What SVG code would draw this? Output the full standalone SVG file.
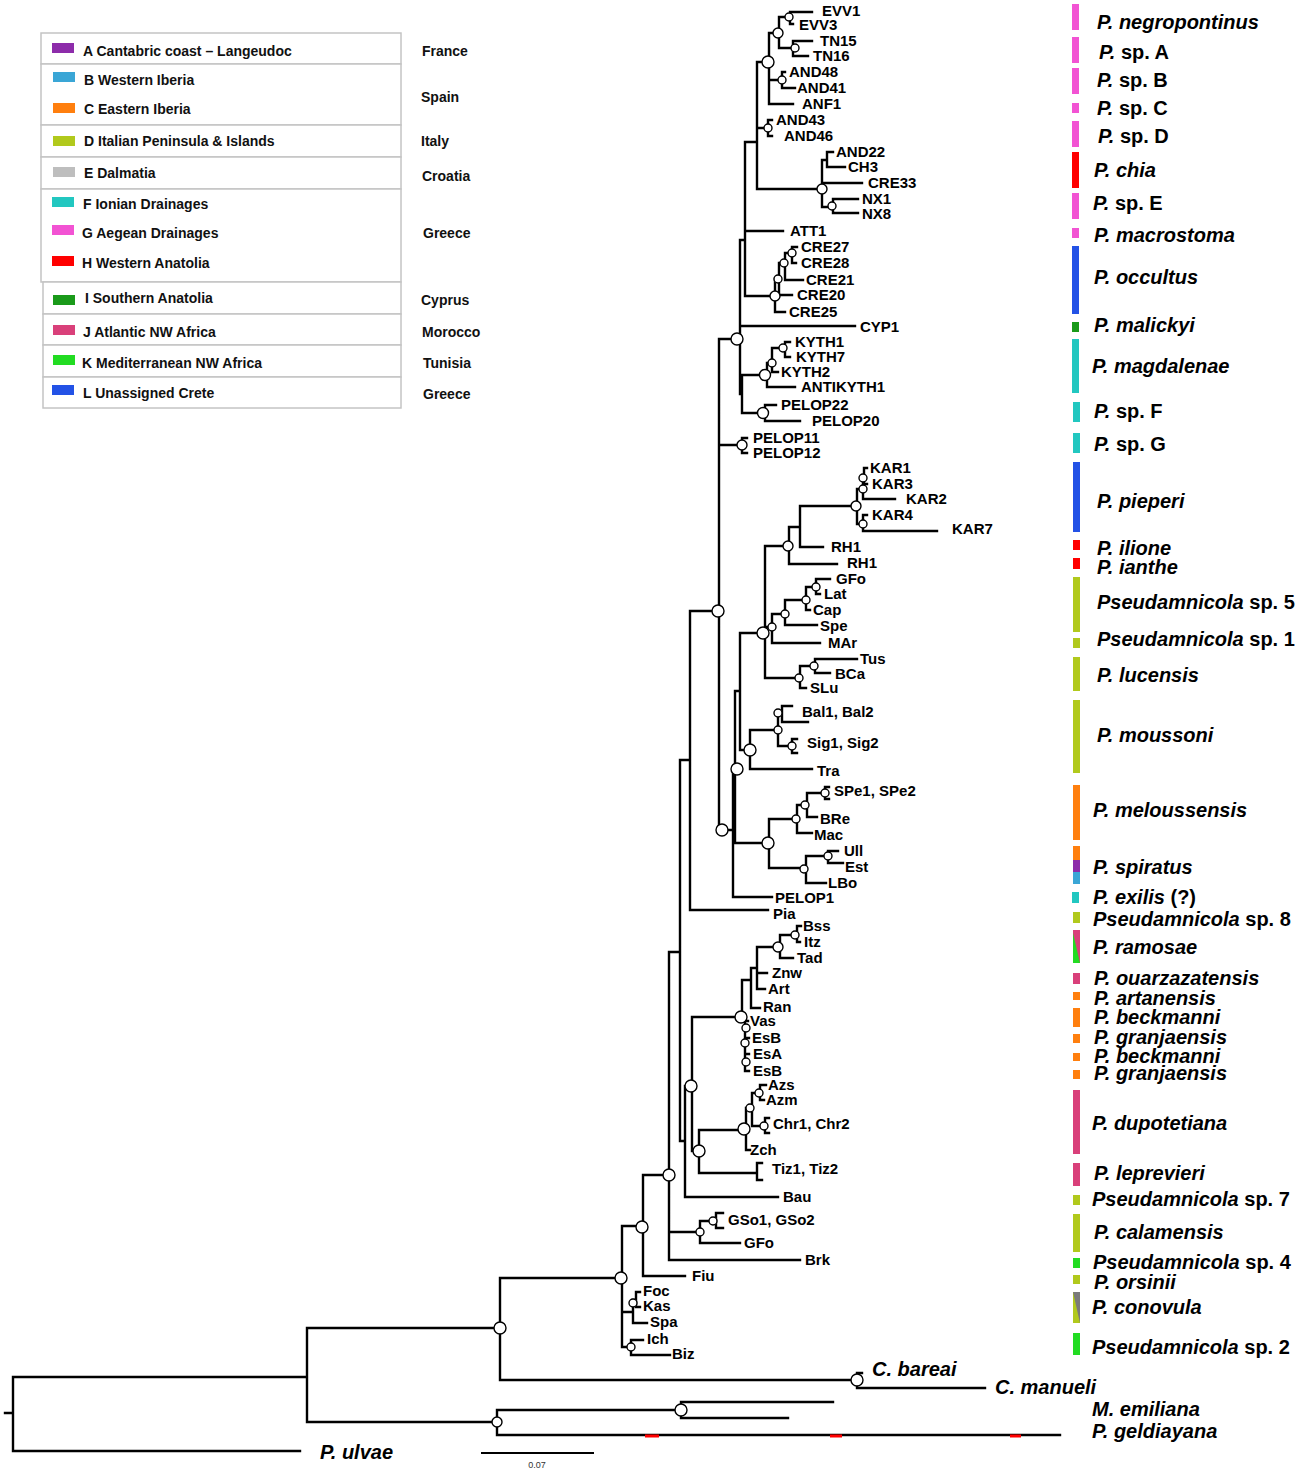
<svg xmlns="http://www.w3.org/2000/svg" width="1300" height="1472" viewBox="0 0 1300 1472">
<style>
.br{fill:none;stroke:#000;stroke-width:2.4;stroke-linecap:square}
.nd{fill:#fff;stroke:#000;stroke-width:1.4}
.tip{font-family:"Liberation Sans",Arial,sans-serif;font-weight:bold;font-size:15px;fill:#000}
.sp{font-family:"Liberation Sans",Arial,sans-serif;font-weight:bold;font-size:20px;fill:#000}
.it{font-style:italic}
.leg{font-family:"Liberation Sans",Arial,sans-serif;font-weight:bold;font-size:14px;fill:#111}
.box{fill:#fff;stroke:#c4c4c4;stroke-width:1.5}
.pk{fill:#F253D3}.rd{fill:#FF0000}.bl{fill:#2352E6}.dg{fill:#1A9A1A}.cy{fill:#22C7C0}.yg{fill:#B1C91C}.or{fill:#FF7F0E}.pu{fill:#8D2CAA}.lb{fill:#3AA6D6}.pj{fill:#D9407A}.gk{fill:#22DC22}.gy{fill:#BEBEBE}.dgy{fill:#7A7A7A}
</style>
<rect width="1300" height="1472" fill="#fff"/>

<g id="legend">
<rect class="box" x="41" y="33" width="360" height="31"/>
<rect class="box" x="41" y="64" width="360" height="61"/>
<rect class="box" x="41" y="125" width="360" height="32"/>
<rect class="box" x="41" y="157" width="360" height="32"/>
<rect class="box" x="41" y="189" width="360" height="93"/>
<rect class="box" x="43" y="282" width="358" height="32"/>
<rect class="box" x="43" y="314" width="358" height="31"/>
<rect class="box" x="43" y="345" width="358" height="32"/>
<rect class="box" x="43" y="377" width="358" height="31"/>
<rect class="pu" x="52" y="43" width="22" height="10"/>
<rect class="lb" x="53" y="72" width="22" height="10"/>
<rect class="or" x="53" y="103" width="22" height="10"/>
<rect class="yg" x="53" y="136" width="22" height="10"/>
<rect class="gy" x="53" y="167" width="22" height="10"/>
<rect class="cy" x="52" y="197" width="22" height="10"/>
<rect class="pk" x="52" y="225" width="22" height="10"/>
<rect class="rd" x="52" y="256" width="22" height="10"/>
<rect class="dg" x="53" y="295" width="22" height="10"/>
<rect class="pj" x="53" y="325" width="22" height="10"/>
<rect class="gk" x="53" y="355" width="22" height="10"/>
<rect class="bl" x="52" y="385" width="22" height="10"/>
<text class="leg" x="83" y="56">A Cantabric coast – Langeudoc</text>
<text class="leg" x="84" y="85">B Western Iberia</text>
<text class="leg" x="84" y="114">C Eastern Iberia</text>
<text class="leg" x="84" y="146">D Italian Peninsula &amp; Islands</text>
<text class="leg" x="84" y="178">E Dalmatia</text>
<text class="leg" x="83" y="209">F Ionian Drainages</text>
<text class="leg" x="82" y="238">G Aegean Drainages</text>
<text class="leg" x="82" y="268">H Western Anatolia</text>
<text class="leg" x="85" y="303">I Southern Anatolia</text>
<text class="leg" x="83" y="337">J Atlantic NW Africa</text>
<text class="leg" x="82" y="368">K Mediterranean NW Africa</text>
<text class="leg" x="83" y="398">L Unassigned Crete</text>
<text class="leg" x="422" y="56">France</text>
<text class="leg" x="421" y="102">Spain</text>
<text class="leg" x="421" y="146">Italy</text>
<text class="leg" x="422" y="181">Croatia</text>
<text class="leg" x="423" y="238">Greece</text>
<text class="leg" x="421" y="305">Cyprus</text>
<text class="leg" x="422" y="337">Morocco</text>
<text class="leg" x="423" y="368">Tunisia</text>
<text class="leg" x="423" y="399">Greece</text>
</g>

<g id="connectors">
<path class="br" d="M5 1413H13M13 1377V1451M13 1377H307M13 1451H300
M307 1328V1422M307 1328H500M307 1422H497
M500 1278V1380M500 1380H857M500 1278H622
M857 1373V1388M857 1373H862M857 1388H985
M497 1410V1435M497 1410H681M497 1435H1060
M681 1402V1418M681 1402H833M681 1418H788
M622 1226V1347M622 1226H643M622 1312H633M622 1347H631
M633 1300V1323M633 1323H647M633 1300H636M636 1292V1307M636 1292H640M636 1307H640
M631 1340V1355M631 1340H643M631 1355H670
M643 1175V1276M643 1175H669M643 1276H685
M669 952V1260M669 952H680M669 1232H700M669 1260H800
M700 1221V1243M700 1221H716M700 1243H740
M716 1213V1228M716 1213H723M716 1228H723
M680 760V1141M680 760H690M680 1141H685
M685 1086V1197M685 1086H692M685 1197H778
M692 1017V1151M692 1017H742M692 1151H699
M699 1130V1173M699 1130H746M699 1173H757
M757 1163V1180M757 1163H762M757 1180H762
M746 1108V1150M746 1108H752M746 1150H750
M752 1093V1126M752 1093H760M752 1126H765
M760 1085V1100M760 1085H766M760 1100H764
M765 1118V1133M765 1118H769M765 1133H769
M742 980V1017M742 980H751M742 1017H745M745 1017V1071M745 1021H748M745 1038H749M745 1054H749M745 1071H749
M751 968V1008M751 968H757M751 1008H760
M757 947V989M757 947H780M757 973H767M757 989H765
M780 935V958M780 935H797M780 958H793
M797 926V942M797 926H801M797 942H800
M690 611V910M690 611H719M690 910H768
M719 339V830M719 339H740M719 445H742M719 830H733
M742 438V453M742 438H747M742 453H747
M733 769V897M733 769H735M733 897H772
M735 691V843M735 691H740M735 843H769
M740 633V750M740 633H765M740 750H750
M750 730V769M750 730H778M750 769H812
M778 713V746M778 713H782M778 746H792
M782 706V722M782 706H792M782 722H808
M792 739V753M792 739H797M792 753H797
M769 819V868M769 819H797M769 868H806
M797 805V833M797 805H807M797 833H812
M807 793V817M807 793H825M807 817H817
M825 787V799M825 787H829M825 799H829
M806 856V883M806 856H828M806 883H826
M828 851V863M828 851H838M828 863H843
M765 546V678M765 546H789M765 627H772M765 678H800
M789 527V564M789 527H800M789 564H837
M800 506V547M800 506H857M800 547H823
M857 489V524M857 489H863M857 524H863
M863 478V499M863 478H864M863 499H895
M864 468V484M864 468H867M864 484H867
M863 515V531M863 515H867M863 531H937
M772 614V643M772 614H785M772 643H820
M785 600V625M785 600H806M785 625H817
M806 587V610M806 587H816M806 610H810
M816 579V594M816 579H830M816 594H820
M800 666V688M800 666H815M800 688H806
M815 659V673M815 659H857M815 673H830
M740 240V394M740 240H745M740 326H855M740 394H742
M742 375V413M742 375H767M742 413H765
M767 363V387M767 363H772M767 387H795
M772 348V372M772 348H785M772 372H778
M785 342V357M785 342H790M785 357H790
M765 405V421M765 405H776M765 421H800
M745 142V296M745 142H757M745 231H783M745 296H775
M775 279V312M775 279H779M775 312H785
M779 263V295M779 263H785M779 295H792
M785 253V280M785 253H792M785 280H803
M792 247V263M792 247H797M792 263H796
M757 62V189M757 62H769M757 128H768M757 189H822
M769 33V104M769 33H779M769 80H782M769 104H793
M779 17V48M779 17H790M779 48H793
M790 12V24M790 12H812M790 24H793
M793 41V56M793 41H812M793 56H808
M782 72V88M782 72H785M782 88H795
M768 120V136M768 120H772M768 136H772
M822 160V207M822 160H827M822 183H862M822 207H833
M827 152V167M827 152H833M827 167H845
M833 199V213M833 199H858M833 213H858"/>
<path d="M645 1436H659M830 1436H842M1010 1436H1021" stroke="#FF0000" stroke-width="3" fill="none"/>
<path d="M481 1453H594" stroke="#000" stroke-width="2" fill="none"/>
<text x="537" y="1468" text-anchor="middle" font-family="Liberation Sans, Arial, sans-serif" font-size="9" fill="#333">0.07</text>
</g>

<g id="nodes">
<circle class="nd" cx="768" cy="62" r="6"/><circle class="nd" cx="737" cy="339" r="6"/><circle class="nd" cx="718" cy="611" r="6"/>
<circle class="nd" cx="763" cy="633" r="6"/><circle class="nd" cx="750" cy="750" r="6"/><circle class="nd" cx="737" cy="769" r="6"/>
<circle class="nd" cx="722" cy="830" r="6"/><circle class="nd" cx="768" cy="843" r="6"/><circle class="nd" cx="741" cy="1017" r="6"/>
<circle class="nd" cx="691" cy="1086" r="6"/><circle class="nd" cx="699" cy="1151" r="6"/><circle class="nd" cx="669" cy="1175" r="6"/>
<circle class="nd" cx="642" cy="1227" r="6"/><circle class="nd" cx="621" cy="1278" r="6"/><circle class="nd" cx="500" cy="1328" r="6"/>
<circle class="nd" cx="681" cy="1410" r="6"/><circle class="nd" cx="857" cy="1380" r="6"/><circle class="nd" cx="744" cy="1129" r="6"/>
<circle class="nd" cx="765" cy="375" r="5.5"/><circle class="nd" cx="763" cy="413" r="5.5"/><circle class="nd" cx="497" cy="1422" r="5"/>
<circle class="nd" cx="856" cy="506" r="5"/><circle class="nd" cx="788" cy="546" r="5"/><circle class="nd" cx="778" cy="33" r="5"/>
<circle class="nd" cx="822" cy="189" r="5"/><circle class="nd" cx="775" cy="296" r="5"/><circle class="nd" cx="778" cy="947" r="5"/>
<circle class="nd" cx="742" cy="445" r="5"/>
<circle class="nd" cx="789" cy="17" r="4"/><circle class="nd" cx="795" cy="48" r="4"/><circle class="nd" cx="782" cy="80" r="4"/>
<circle class="nd" cx="768" cy="128" r="4"/><circle class="nd" cx="832" cy="206" r="4"/><circle class="nd" cx="778" cy="279" r="4"/>
<circle class="nd" cx="784" cy="263" r="4"/><circle class="nd" cx="792" cy="253" r="4"/><circle class="nd" cx="783" cy="348" r="4"/>
<circle class="nd" cx="772" cy="363" r="4"/><circle class="nd" cx="863" cy="478" r="4"/><circle class="nd" cx="863" cy="489" r="4"/>
<circle class="nd" cx="863" cy="524" r="4"/><circle class="nd" cx="816" cy="587" r="4"/><circle class="nd" cx="806" cy="600" r="4"/>
<circle class="nd" cx="785" cy="614" r="4"/><circle class="nd" cx="772" cy="627" r="4"/><circle class="nd" cx="814" cy="666" r="4"/>
<circle class="nd" cx="799" cy="678" r="4"/><circle class="nd" cx="778" cy="713" r="4"/><circle class="nd" cx="778" cy="730" r="4"/>
<circle class="nd" cx="792" cy="746" r="4"/><circle class="nd" cx="825" cy="793" r="4"/><circle class="nd" cx="805" cy="805" r="4"/>
<circle class="nd" cx="796" cy="819" r="4"/><circle class="nd" cx="828" cy="856" r="4"/><circle class="nd" cx="804" cy="869" r="4"/>
<circle class="nd" cx="795" cy="935" r="4"/><circle class="nd" cx="746" cy="1028" r="4"/><circle class="nd" cx="745" cy="1043" r="4"/>
<circle class="nd" cx="746" cy="1062" r="4"/><circle class="nd" cx="759" cy="1093" r="4"/><circle class="nd" cx="750" cy="1108" r="4"/>
<circle class="nd" cx="764" cy="1126" r="4"/><circle class="nd" cx="713" cy="1221" r="4"/><circle class="nd" cx="700" cy="1232" r="4"/>
<circle class="nd" cx="633" cy="1303" r="4"/><circle class="nd" cx="631" cy="1347" r="4"/>
</g>

<g id="tips" class="tip">
<g id="t-EVV1"><text x="822" y="16">EVV1</text></g>
<g id="t-EVV3"><text x="799" y="30">EVV3</text></g>
<g id="t-TN15"><text x="820" y="46">TN15</text></g>
<g id="t-TN16"><text x="813" y="61">TN16</text></g>
<g id="t-AND48"><text x="789" y="77">AND48</text></g>
<g id="t-AND41"><text x="797" y="93">AND41</text></g>
<g id="t-ANF1"><text x="802" y="109">ANF1</text></g>
<g id="t-AND43"><text x="776" y="125">AND43</text></g>
<g id="t-AND46"><text x="784" y="141">AND46</text></g>
<g id="t-AND22"><text x="836" y="157">AND22</text></g>
<g id="t-CH3"><text x="848" y="172">CH3</text></g>
<g id="t-CRE33"><text x="868" y="188">CRE33</text></g>
<g id="t-NX1"><text x="862" y="204">NX1</text></g>
<g id="t-NX8"><text x="862" y="219">NX8</text></g>
<g id="t-ATT1"><text x="790" y="236">ATT1</text></g>
<g id="t-CRE27"><text x="801" y="252">CRE27</text></g>
<g id="t-CRE28"><text x="801" y="268">CRE28</text></g>
<g id="t-CRE21"><text x="806" y="285">CRE21</text></g>
<g id="t-CRE20"><text x="797" y="300">CRE20</text></g>
<g id="t-CRE25"><text x="789" y="317">CRE25</text></g>
<g id="t-CYP1"><text x="860" y="332">CYP1</text></g>
<g id="t-KYTH1"><text x="795" y="347">KYTH1</text></g>
<g id="t-KYTH7"><text x="796" y="362">KYTH7</text></g>
<g id="t-KYTH2"><text x="781" y="377">KYTH2</text></g>
<g id="t-ANTIKYTH1"><text x="801" y="392">ANTIKYTH1</text></g>
<g id="t-PELOP22"><text x="781" y="410">PELOP22</text></g>
<g id="t-PELOP20"><text x="812" y="426">PELOP20</text></g>
<g id="t-PELOP11"><text x="753" y="443">PELOP11</text></g>
<g id="t-PELOP12"><text x="753" y="458">PELOP12</text></g>
<g id="t-KAR1"><text x="870" y="473">KAR1</text></g>
<g id="t-KAR3"><text x="872" y="489">KAR3</text></g>
<g id="t-KAR2"><text x="906" y="504">KAR2</text></g>
<g id="t-KAR4"><text x="872" y="520">KAR4</text></g>
<g id="t-KAR7"><text x="952" y="534">KAR7</text></g>
<g id="t-RH1a"><text x="831" y="552">RH1</text></g>
<g id="t-RH1b"><text x="847" y="568">RH1</text></g>
<g id="t-GFo1"><text x="836" y="584">GFo</text></g>
<g id="t-Lat"><text x="824" y="599">Lat</text></g>
<g id="t-Cap"><text x="813" y="615">Cap</text></g>
<g id="t-Spe"><text x="820" y="631">Spe</text></g>
<g id="t-MAr"><text x="828" y="648">MAr</text></g>
<g id="t-Tus"><text x="860" y="664">Tus</text></g>
<g id="t-BCa"><text x="835" y="679">BCa</text></g>
<g id="t-SLu"><text x="810" y="693">SLu</text></g>
<g id="t-Bal"><text x="802" y="717">Bal1, Bal2</text></g>
<g id="t-Sig"><text x="807" y="748">Sig1, Sig2</text></g>
<g id="t-Tra"><text x="817" y="776">Tra</text></g>
<g id="t-SPe"><text x="834" y="796">SPe1, SPe2</text></g>
<g id="t-BRe"><text x="820" y="824">BRe</text></g>
<g id="t-Mac"><text x="814" y="840">Mac</text></g>
<g id="t-Ull"><text x="844" y="856">Ull</text></g>
<g id="t-Est"><text x="845" y="872">Est</text></g>
<g id="t-LBo"><text x="828" y="888">LBo</text></g>
<g id="t-PELOP1"><text x="775" y="903">PELOP1</text></g>
<g id="t-Pia"><text x="773" y="919">Pia</text></g>
<g id="t-Bss"><text x="803" y="931">Bss</text></g>
<g id="t-Itz"><text x="804" y="947">Itz</text></g>
<g id="t-Tad"><text x="797" y="963">Tad</text></g>
<g id="t-Znw"><text x="772" y="978">Znw</text></g>
<g id="t-Art"><text x="768" y="994">Art</text></g>
<g id="t-Ran"><text x="763" y="1012">Ran</text></g>
<g id="t-Vas"><text x="750" y="1026">Vas</text></g>
<g id="t-EsB1"><text x="752" y="1043">EsB</text></g>
<g id="t-EsA"><text x="753" y="1059">EsA</text></g>
<g id="t-EsB2"><text x="753" y="1076">EsB</text></g>
<g id="t-Azs"><text x="768" y="1090">Azs</text></g>
<g id="t-Azm"><text x="766" y="1105">Azm</text></g>
<g id="t-Chr"><text x="773" y="1129">Chr1, Chr2</text></g>
<g id="t-Zch"><text x="750" y="1155">Zch</text></g>
<g id="t-Tiz"><text x="772" y="1174">Tiz1, Tiz2</text></g>
<g id="t-Bau"><text x="783" y="1202">Bau</text></g>
<g id="t-GSo"><text x="728" y="1225">GSo1, GSo2</text></g>
<g id="t-GFo2"><text x="744" y="1248">GFo</text></g>
<g id="t-Brk"><text x="805" y="1265">Brk</text></g>
<g id="t-Fiu"><text x="692" y="1281">Fiu</text></g>
<g id="t-Foc"><text x="643" y="1296">Foc</text></g>
<g id="t-Kas"><text x="643" y="1311">Kas</text></g>
<g id="t-Spa"><text x="650" y="1327">Spa</text></g>
<g id="t-Ich"><text x="647" y="1344">Ich</text></g>
<g id="t-Biz"><text x="672" y="1359">Biz</text></g>
</g>

<g id="outgroups" class="sp it">
<g id="o-bareai"><text x="872" y="1376">C. bareai</text></g>
<g id="o-manueli"><text x="995" y="1394">C. manueli</text></g>
<g id="o-emiliana"><text x="1092" y="1416">M. emiliana</text></g>
<g id="o-geldiayana"><text x="1092" y="1438">P. geldiayana</text></g>
<g id="o-ulvae"><text x="320" y="1459">P. ulvae</text></g>
</g>

<g id="species" class="sp">
<g id="s-negropontinus"><rect class="pk" x="1072" y="4" width="7" height="26"/><text x="1097" y="29" class="it">P. negropontinus</text></g>
<g id="s-spA"><rect class="pk" x="1072" y="37" width="7" height="26"/><text x="1099" y="59"><tspan class="it">P.</tspan> sp. A</text></g>
<g id="s-spB"><rect class="pk" x="1072" y="68" width="7" height="26"/><text x="1097" y="87"><tspan class="it">P.</tspan> sp. B</text></g>
<g id="s-spC"><rect class="pk" x="1072" y="103" width="7" height="10"/><text x="1097" y="115"><tspan class="it">P.</tspan> sp. C</text></g>
<g id="s-spD"><rect class="pk" x="1072" y="121" width="7" height="26"/><text x="1098" y="143"><tspan class="it">P.</tspan> sp. D</text></g>
<g id="s-chia"><rect class="rd" x="1072" y="152" width="7" height="36"/><text x="1094" y="177" class="it">P. chia</text></g>
<g id="s-spE"><rect class="pk" x="1072" y="193" width="7" height="26"/><text x="1093" y="210"><tspan class="it">P.</tspan> sp. E</text></g>
<g id="s-macrostoma"><rect class="pk" x="1072" y="228" width="7" height="10"/><text x="1094" y="242" class="it">P. macrostoma</text></g>
<g id="s-occultus"><rect class="bl" x="1072" y="246" width="7" height="68"/><text x="1094" y="284" class="it">P. occultus</text></g>
<g id="s-malickyi"><rect class="dg" x="1072" y="322" width="7" height="10"/><text x="1094" y="332" class="it">P. malickyi</text></g>
<g id="s-magdalenae"><rect class="cy" x="1072" y="339" width="7" height="54"/><text x="1092" y="373" class="it">P. magdalenae</text></g>
<g id="s-spF"><rect class="cy" x="1073" y="402" width="7" height="20"/><text x="1094" y="418"><tspan class="it">P.</tspan> sp. F</text></g>
<g id="s-spG"><rect class="cy" x="1073" y="433" width="7" height="20"/><text x="1094" y="451"><tspan class="it">P.</tspan> sp. G</text></g>
<g id="s-pieperi"><rect class="bl" x="1073" y="462" width="7" height="70"/><text x="1097" y="508" class="it">P. pieperi</text></g>
<g id="s-ilione"><rect class="rd" x="1073" y="540" width="7" height="10"/><text x="1097" y="555" class="it">P. ilione</text></g>
<g id="s-ianthe"><rect class="rd" x="1073" y="558" width="7" height="11"/><text x="1097" y="574" class="it">P. ianthe</text></g>
<g id="s-sp5"><rect class="yg" x="1073" y="577" width="7" height="55"/><text x="1097" y="609"><tspan class="it">Pseudamnicola</tspan> sp. 5</text></g>
<g id="s-sp1"><rect class="yg" x="1073" y="638" width="7" height="10"/><text x="1097" y="646"><tspan class="it">Pseudamnicola</tspan> sp. 1</text></g>
<g id="s-lucensis"><rect class="yg" x="1073" y="657" width="7" height="34"/><text x="1097" y="682" class="it">P. lucensis</text></g>
<g id="s-moussoni"><rect class="yg" x="1073" y="700" width="7" height="73"/><text x="1097" y="742" class="it">P. moussoni</text></g>
<g id="s-meloussensis"><rect class="or" x="1073" y="785" width="7" height="55"/><text x="1093" y="817" class="it">P. meloussensis</text></g>
<g id="s-spiratus"><rect class="or" x="1073" y="846" width="7" height="14"/><rect class="pu" x="1073" y="860" width="7" height="12"/><rect class="lb" x="1073" y="872" width="7" height="12"/><text x="1093" y="874" class="it">P. spiratus</text></g>
<g id="s-exilis"><rect class="cy" x="1072" y="892" width="7" height="11"/><text x="1093" y="904"><tspan class="it">P. exilis</tspan> (?)</text></g>
<g id="s-sp8"><rect class="yg" x="1073" y="912" width="7" height="11"/><text x="1093" y="926"><tspan class="it">Pseudamnicola</tspan> sp. 8</text></g>
<g id="s-ramosae"><rect class="pj" x="1073" y="930" width="7" height="33"/><polygon class="gk" points="1073,933 1080,963 1073,963"/><text x="1093" y="954" class="it">P. ramosae</text></g>
<g id="s-ouarzazatensis"><rect class="pj" x="1073" y="973" width="7" height="11"/><text x="1094" y="985" class="it">P. ouarzazatensis</text></g>
<g id="s-artanensis"><rect class="or" x="1073" y="992" width="7" height="8"/><text x="1094" y="1005" class="it">P. artanensis</text></g>
<g id="s-beckmanni1"><rect class="or" x="1073" y="1008" width="7" height="19"/><text x="1094" y="1024" class="it">P. beckmanni</text></g>
<g id="s-granjaensis1"><rect class="or" x="1073" y="1034" width="7" height="9"/><text x="1094" y="1044" class="it">P. granjaensis</text></g>
<g id="s-beckmanni2"><rect class="or" x="1073" y="1053" width="7" height="8"/><text x="1094" y="1063" class="it">P. beckmanni</text></g>
<g id="s-granjaensis2"><rect class="or" x="1073" y="1070" width="7" height="9"/><text x="1094" y="1080" class="it">P. granjaensis</text></g>
<g id="s-dupotetiana"><rect class="pj" x="1073" y="1090" width="7" height="64"/><text x="1092" y="1130" class="it">P. dupotetiana</text></g>
<g id="s-leprevieri"><rect class="pj" x="1073" y="1163" width="7" height="23"/><text x="1094" y="1180" class="it">P. leprevieri</text></g>
<g id="s-sp7"><rect class="yg" x="1073" y="1195" width="7" height="10"/><text x="1092" y="1206"><tspan class="it">Pseudamnicola</tspan> sp. 7</text></g>
<g id="s-calamensis"><rect class="yg" x="1073" y="1214" width="7" height="38"/><text x="1094" y="1239" class="it">P. calamensis</text></g>
<g id="s-sp4"><rect class="gk" x="1073" y="1258" width="7" height="10"/><text x="1093" y="1269"><tspan class="it">Pseudamnicola</tspan> sp. 4</text></g>
<g id="s-orsinii"><rect class="yg" x="1073" y="1275" width="7" height="9"/><text x="1094" y="1289" class="it">P. orsinii</text></g>
<g id="s-conovula"><rect class="yg" x="1073" y="1292" width="7" height="31"/><polygon class="dgy" points="1073,1292 1080,1292 1080,1323"/><text x="1092" y="1314" class="it">P. conovula</text></g>
<g id="s-sp2"><rect class="gk" x="1073" y="1333" width="7" height="22"/><text x="1092" y="1354"><tspan class="it">Pseudamnicola</tspan> sp. 2</text></g>
</g>
</svg>
